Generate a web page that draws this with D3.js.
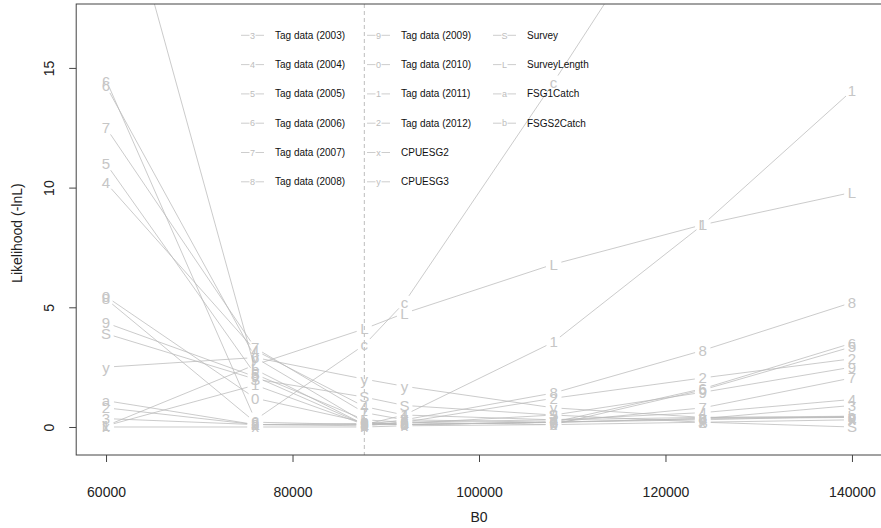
<!DOCTYPE html>
<html><head><meta charset="utf-8">
<script src="https://cdn.jsdelivr.net/npm/d3@7"></script>
<style>
body{margin:0;background:#fff;}
svg{display:block;font-family:"Liberation Sans",Arial,sans-serif;}
</style></head>
<body><svg id="chart" width="881" height="528"></svg>
<script>
// ---- data ----
const b0Values = [60000, 76000, 87700, 92000, 108000, 124000, 140000];
const mleB0 = 87700;
const seriesNames = ["Tag data (2003)","Tag data (2004)","Tag data (2005)","Tag data (2006)","Tag data (2007)","Tag data (2008)","Tag data (2009)","Tag data (2010)","Tag data (2011)","Tag data (2012)","CPUESG2","CPUESG3","Survey","SurveyLength","FSG1Catch","FSGS2Catch","c"];
const seriesPch = ["3","4","5","6","7","8","9","0","1","2","x","y","S","L","a","b","c"];
const inLegend = [1,1,1,1,1,1,1,1,1,1,1,1,1,1,1,1,0];
const tag2003 = [0.35, 0.1, 0.15, 0.1, 0.2, 0.35, 0.9];
const tag2004 = [10.2, 3.2, 0.85, 0.5, 0.3, 0.6, 1.15];
const tag2005 = [11.0, 2.2, 0.3, 0.2, 0.1, 1.55, 3.35];
const tag2006 = [14.25, 2.9, 0.2, 0.1, 0.2, 1.6, 3.5];
const tag2007 = [12.5, 3.3, 0.6, 0.3, 0.2, 0.8, 2.05];
const tag2008 = [5.35, 0.2, 0.1, 0.3, 1.42, 3.2, 5.2];
const tag2009 = [4.35, 2.1, 0.1, 0.15, 0.5, 1.45, 2.5];
const tag2010 = [5.45, 1.2, 0.2, 0.1, 0.2, 0.35, 0.4];
const tag2011 = [0.05, 1.75, 0.1, 0.5, 3.55, 8.45, 14.05];
const tag2012 = [0.8, 0.1, 0.05, 0.2, 1.2, 2.05, 2.85];
const cpueSG2 = [0.0, 0.0, 0.0, 0.05, 0.1, 0.2, 0.3];
const cpueSG3 = [2.5, 2.9, 2.0, 1.7, 0.8, 0.4, 0.45];
const survey = [3.9, 2.0, 1.25, 0.9, 0.5, 0.2, 0.0];
const surveyLength = [0.05, 2.6, 4.1, 4.75, 6.8, 8.45, 9.8];
const fsg1Catch = [1.1, 0.1, 0.1, 0.2, 0.3, 0.4, 0.4];
const fsgs2Catch = [25.0, 2.4, 0.1, 0.1, 0.2, 0.3, 0.45];
const seriesC = [14.5, 0.3, 3.43, 5.2, 14.4, 24.0, 33.0];
const seriesValues = [tag2003,tag2004,tag2005,tag2006,tag2007,tag2008,tag2009,tag2010,tag2011,tag2012,cpueSG2,cpueSG3,survey,surveyLength,fsg1Catch,fsgs2Catch,seriesC];
const xTicks = [60000, 80000, 100000, 120000, 140000];
const yTicks = [0, 5, 10, 15];
const xTitle = "B0";
const yTitle = "Likelihood (-lnL)";

// ---- layout ----
const L = 76.2, R = 881.8, T = 4, B = 455;
const x = d3.scaleLinear().domain([56800, 143200]).range([L, R]);
const y = d3.scaleLinear().domain([-1.17, 17.67]).range([B, T]);
const svg = d3.select("#chart");
svg.append("defs").append("clipPath").attr("id","clip")
  .append("rect").attr("x",L).attr("y",T).attr("width",R-L).attr("height",B-T);

const plot = svg.append("g").attr("clip-path","url(#clip)");
// MLE dashed line
plot.append("line").attr("x1",x(mleB0)).attr("x2",x(mleB0)).attr("y1",T).attr("y2",B)
  .attr("stroke","#bdbdbd").attr("stroke-width",1).attr("stroke-dasharray","4,3");

const gap = 8;
const lineCol = "#b9b9b9", glyphCol = "#c6c6c6";
const [yLo, yHi] = y.domain();
seriesValues.forEach((vals, si) => {
  const pts = vals.map((v,i)=>({px:x(b0Values[i]), py:y(v), v}));
  const g = plot.append("g");
  for (let i=0;i<pts.length-1;i++){
    const a=pts[i], b=pts[i+1];
    const dx=b.px-a.px, dy=b.py-a.py, len=Math.hypot(dx,dy);
    if (len<=2*gap) continue;
    const ux=dx/len, uy=dy/len;
    g.append("line").attr("x1",a.px+ux*gap).attr("y1",a.py+uy*gap)
      .attr("x2",b.px-ux*gap).attr("y2",b.py-uy*gap)
      .attr("stroke",lineCol).attr("stroke-width",0.75);
  }
  g.selectAll("text").data(pts.filter(p=>p.v<yHi-0.5 && p.v>yLo)).join("text")
    .attr("x",d=>d.px).attr("y",d=>d.py).attr("dy","0.36em")
    .attr("text-anchor","middle").attr("font-size",15).attr("fill",glyphCol)
    .text(seriesPch[si]);
});

// frame
svg.append("rect").attr("x",L).attr("y",T).attr("width",R-L).attr("height",B-T)
  .attr("fill","none").attr("stroke","#444").attr("stroke-width",1);

// axes
const xAxis = svg.append("g").attr("transform",`translate(0,${B})`)
  .call(d3.axisBottom(x).tickValues(xTicks).tickFormat(d3.format("d")).tickSize(7).tickPadding(23));
const yAxis = svg.append("g").attr("transform",`translate(${L},0)`)
  .call(d3.axisLeft(y).tickValues(yTicks).tickSize(7).tickPadding(0));
[xAxis,yAxis].forEach(a=>{
  a.select(".domain").remove();
  a.selectAll(".tick line").attr("stroke","#444");
  a.selectAll("text").attr("font-size",14).attr("fill","#222").attr("font-family","Liberation Sans, Arial, sans-serif");
});
xAxis.selectAll("text").attr("dy","0.36em").attr("y",37);
yAxis.selectAll(".tick text").attr("transform","rotate(-90)").attr("x",0).attr("y",-22)
  .attr("dy","0").attr("text-anchor","middle");

svg.append("text").attr("x",x(100000)).attr("y",522).attr("text-anchor","middle")
  .attr("font-size",14).attr("fill","#222").text(xTitle);
svg.append("text").attr("transform",`translate(22,${y(8.1)}) rotate(-90)`)
  .attr("text-anchor","middle").attr("font-size",14).attr("fill","#222").text(yTitle);

// legend
const legendIdx = seriesNames.map((n,i)=>i).filter(i=>inLegend[i]);
const colX = [{l0:241,l1:264,g:252.5,t:275},{l0:367,l1:390,g:378.5,t:401},{l0:493,l1:516,g:504.5,t:527}];
const rowY0 = 35.3, rowDy = 29.3;
const leg = svg.append("g");
legendIdx.forEach((si,k)=>{
  const c = colX[Math.floor(k/6)], yy = rowY0 + (k%6)*rowDy;
  leg.append("line").attr("x1",c.l0).attr("x2",c.l1).attr("y1",yy).attr("y2",yy)
    .attr("stroke","#c0c0c0").attr("stroke-width",0.8);
  leg.append("rect").attr("x",c.g-3).attr("y",yy-5).attr("width",6).attr("height",10).attr("fill","#fff");
  leg.append("text").attr("x",c.g).attr("y",yy).attr("dy","0.36em").attr("text-anchor","middle")
    .attr("font-size",9).attr("fill","#bdbdbd").text(seriesPch[si]);
  leg.append("text").attr("x",c.t).attr("y",yy).attr("dy","0.35em")
    .attr("font-size",10).attr("fill","#111").text(seriesNames[si]);
});
</script></body></html>
